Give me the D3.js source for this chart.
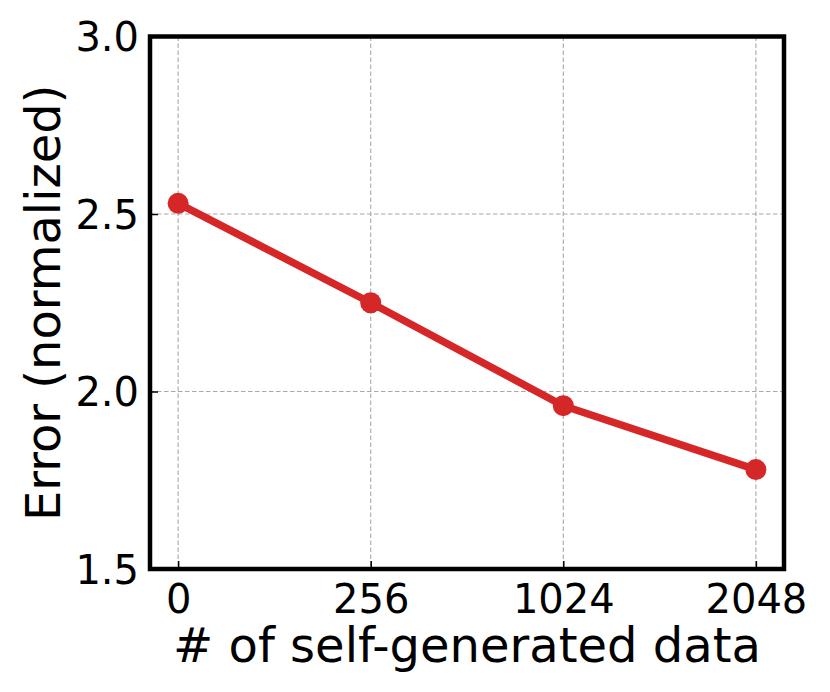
<!DOCTYPE html>
<html>
<head>
<meta charset="utf-8">
<script src="https://cdn.jsdelivr.net/npm/d3@7"></script>
<style>
  body { margin: 0; background: #fff; }
  svg { display: block; }
</style>
</head>
<body>
<div id="chart"></div>
<script>
// data
const categories = ["0", "256", "1024", "2048"];
const errors = [2.53, 2.25, 1.96, 1.78];
const yTicks = [1.5, 2.0, 2.5, 3.0];

const width = 830, height = 692;
const plotLeft = 150, plotRight = 784, plotTop = 36.5, plotBottom = 569;
const red = "#d62728";
const font = "'DejaVu Sans', sans-serif";

const svg = d3.select("#chart").append("svg")
    .attr("width", width)
    .attr("height", height);

const x = d3.scalePoint()
    .domain(categories)
    .range([plotLeft, plotRight])
    .padding(0.146);

const y = d3.scaleLinear()
    .domain([1.5, 3.0])
    .range([plotBottom, plotTop]);

// dashed grid
const grid = svg.append("g")
    .attr("stroke", "#a8a8a8")
    .attr("stroke-width", 1.1)
    .attr("stroke-dasharray", "4.5,2.5");

grid.selectAll("line.vx")
    .data(categories)
    .join("line")
    .attr("class", "vx")
    .attr("x1", d => x(d)).attr("x2", d => x(d))
    .attr("y1", plotTop).attr("y2", plotBottom);

grid.selectAll("line.hy")
    .data(yTicks)
    .join("line")
    .attr("class", "hy")
    .attr("x1", plotLeft).attr("x2", plotRight)
    .attr("y1", d => y(d)).attr("y2", d => y(d));

// axes with inward ticks
const xAxis = svg.append("g")
    .attr("transform", `translate(0,${plotBottom})`)
    .call(d3.axisBottom(x).tickSize(-8).tickPadding(16).tickSizeOuter(0));

const yAxis = svg.append("g")
    .attr("transform", `translate(${plotLeft},0)`)
    .call(d3.axisLeft(y).tickValues(yTicks).tickFormat(d3.format(".1f"))
        .tickSize(-8).tickPadding(11).tickSizeOuter(0));

[xAxis, yAxis].forEach(g => {
    g.select(".domain").remove();
    g.selectAll(".tick line").attr("stroke", "#000").attr("stroke-width", 1.5);
    g.selectAll(".tick text")
        .attr("fill", "#000")
        .style("font-family", font)
        .style("font-size", "40px");
});
xAxis.selectAll(".tick text").attr("dy", "0.71em");
yAxis.selectAll(".tick text").attr("dy", "0.36em");

// line and markers
const line = d3.line()
    .x((d, i) => x(categories[i]))
    .y(d => y(d));

svg.append("path")
    .datum(errors)
    .attr("d", line)
    .attr("fill", "none")
    .attr("stroke", red)
    .attr("stroke-width", 7.5)
    .attr("stroke-linejoin", "round");

svg.selectAll("circle.pt")
    .data(errors)
    .join("circle")
    .attr("class", "pt")
    .attr("cx", (d, i) => x(categories[i]))
    .attr("cy", d => y(d))
    .attr("r", 10.5)
    .attr("fill", red);

// frame
svg.append("rect")
    .attr("x", plotLeft).attr("y", plotTop)
    .attr("width", plotRight - plotLeft).attr("height", plotBottom - plotTop)
    .attr("fill", "none")
    .attr("stroke", "#000")
    .attr("stroke-width", 4.5);

// axis titles
svg.append("text")
    .attr("x", (plotLeft + plotRight) / 2)
    .attr("y", 662)
    .attr("text-anchor", "middle")
    .style("font-family", font)
    .style("font-size", "48px")
    .text("# of self-generated data");

svg.append("text")
    .attr("transform", `translate(60,${(plotTop + plotBottom) / 2}) rotate(-90)`)
    .attr("text-anchor", "middle")
    .style("font-family", font)
    .style("font-size", "48px")
    .text("Error (normalized)");
</script>
</body>
</html>
